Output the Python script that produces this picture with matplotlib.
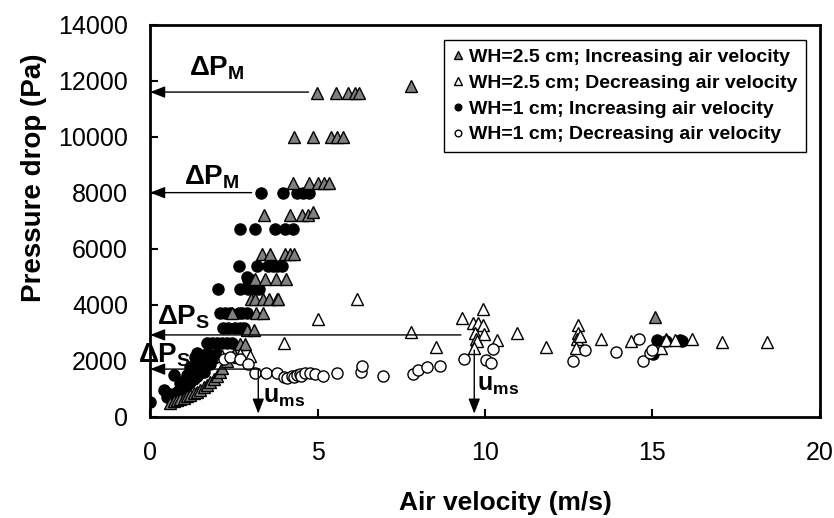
import matplotlib
matplotlib.use("Agg")
import matplotlib.pyplot as plt

plt.rcParams["font.family"] = ["Liberation Sans", "DejaVu Sans"]
plt.rcParams["mathtext.fontset"] = "custom"
plt.rcParams["mathtext.rm"] = "Liberation Sans"
plt.rcParams["mathtext.bf"] = "Liberation Sans:bold"

# WH=2.5 cm, increasing air velocity (grey triangles)
inc25_v = [4.97, 5.55, 5.92, 6.12, 6.25, 7.8,
           4.31, 4.85, 5.40, 5.57, 5.75,
           4.26, 4.73, 5.02, 5.20, 5.34,
           3.41, 4.18, 4.55, 4.71, 4.87,
           3.35, 3.58, 4.03, 4.18, 4.30,
           3.13, 3.43, 3.76, 4.05,
           3.01, 3.13, 3.36, 3.56, 3.78, 3.81,
           2.44, 3.16, 3.38,
           2.89, 3.10,
           2.69, 2.82,
           0.6, 0.7, 0.8, 0.9, 1.0, 1.1, 1.2, 1.3, 1.4, 1.5,
           1.6, 1.7, 1.8, 1.9, 2.0, 2.1, 2.14, 2.3, 2.5,
           15.07, 15.4]
inc25_p = [11550, 11550, 11550, 11550, 11550, 11800,
           10000, 10000, 10000, 10000, 10000,
           8360, 8360, 8360, 8360, 8360,
           7200, 7200, 7200, 7200, 7330,
           5820, 5820, 5820, 5820, 5820,
           4930, 4930, 4930, 4930,
           4200, 4200, 4200, 4200, 4200, 4200,
           3700, 3700, 3700,
           3100, 3100,
           2600, 2600,
           500, 560, 600, 650, 690, 740, 790, 850, 910, 980,
           1060, 1140, 1250, 1370, 1480, 1600, 1740, 2000, 2250,
           3580, 2780]

# WH=2.5 cm, decreasing air velocity (open triangles)
dec25_v = [2.14, 2.64, 2.69, 2.99, 4.0, 5.0, 6.19, 7.78, 8.53, 9.30,
           9.93, 9.65, 9.80, 9.93, 9.70, 9.98, 9.72, 9.75, 9.67, 10.35,
           10.95, 11.81, 12.77, 12.78, 12.74, 12.72, 12.85, 13.46, 14.35,
           15.27, 15.42, 15.67, 16.17, 17.08, 18.43]
dec25_p = [2180, 2140, 2250, 2180, 2650, 3490, 4210, 3050, 2490, 3520,
           3850, 3370, 3370, 3290, 3010, 2980, 2770, 2700, 2450, 2750,
           2990, 2500, 3290, 3000, 2770, 2450, 2900, 2800, 2720,
           2470, 2750, 2760, 2790, 2690, 2690]

# WH=1 cm, increasing air velocity (black circles)
inc1_v = [3.31, 3.96, 4.38, 4.58, 4.73,
          2.67, 3.13, 3.73, 4.03, 4.28,
          2.64, 3.20, 3.53, 3.68, 3.78, 3.93,
          2.89, 2.92, 3.05,
          2.02, 2.67, 2.92, 3.13, 3.26,
          2.09, 2.24, 2.39, 2.64, 2.74, 2.89,
          2.19, 2.34, 2.54, 2.67, 2.79,
          1.69, 1.84, 1.99, 2.14, 2.29, 2.44,
          0.0, 0.4, 0.7, 0.5, 0.6, 0.8, 0.9, 1.0, 1.1, 1.2, 1.3, 1.4,
          1.0, 1.2, 1.3, 1.4, 1.5, 1.39, 1.6, 1.7, 1.8, 1.9, 2.0,
          1.5, 1.6, 1.7, 1.8, 1.2, 1.35, 1.1, 0.9, 1.6,
          15.02, 15.14, 15.42, 15.82, 15.87]
inc1_p = [8000, 8000, 8000, 8000, 8000,
          6700, 6700, 6700, 6700, 6700,
          5400, 5400, 5400, 5400, 5400, 5400,
          5010, 4900, 4900,
          4560, 4560, 4560, 4560, 4560,
          3730, 3730, 3730, 3730, 3730, 3730,
          3170, 3170, 3170, 3170, 3170,
          2630, 2630, 2630, 2630, 2630, 2630,
          520, 960, 1500, 700, 820, 900, 1000, 1080, 1150, 1250, 1350, 1450,
          1300, 1550, 1750, 1900, 2050, 2270, 2200, 2250, 2200, 2100, 2250,
          1700, 1850, 1950, 1900, 1800, 2150, 1500, 1200, 1600,
          2250, 2750, 2720, 2750, 2730]

# WH=1 cm, decreasing air velocity (open circles)
dec1_v = [2.22, 2.39, 2.69, 2.92, 3.13, 3.46, 3.78, 4.01, 4.1, 4.23, 4.3,
          4.38, 4.48, 4.5, 4.63, 4.78, 4.93, 5.17, 5.57, 6.29, 6.32, 6.94,
          7.86, 8.01, 8.26, 8.66, 9.37, 10.03, 10.18, 10.23, 12.64, 12.99,
          13.91, 14.61, 14.71, 14.93, 15.0]
dec1_p = [2060, 2150, 2060, 1890, 1560, 1560, 1560, 1440, 1400, 1480, 1420,
          1500, 1540, 1450, 1560, 1580, 1550, 1480, 1580, 1620, 1820, 1460,
          1520, 1680, 1800, 1820, 2060, 2040, 1940, 2440, 2000, 2390,
          2310, 2770, 2010, 2300, 2400]

labels = ["WH=2.5 cm; Increasing air velocity",
          "WH=2.5 cm; Decreasing air velocity",
          "WH=1 cm; Increasing air velocity",
          "WH=1 cm; Decreasing air velocity"]

# horizontal arrows: (y level, x start of line)
dp_levels = [11600, 8010, 2930, 1710]
dp_starts = [4.73, 3.03, 9.28, 3.28]
ums_v = [3.23, 9.68]
ums_top = [1710, 2390]

fig = plt.figure(figsize=(8.34, 5.18), dpi=100)
ax = fig.add_axes([0.18, 0.195, 0.803, 0.757])

ms_t, ms_c = 9, 8
h1 = ax.plot(inc1_v, inc1_p, "o", ms=ms_c, mfc="black", mec="black",
             mew=1, zorder=3)[0]
h0 = ax.plot(inc25_v, inc25_p, "^", ms=ms_t, mfc="#808080", mec="black",
             mew=1, zorder=4)[0]
h2 = ax.plot(dec25_v, dec25_p, "^", ms=ms_t, mfc="white", mec="black",
             mew=1, zorder=5)[0]
h3 = ax.plot(dec1_v, dec1_p, "o", ms=ms_c, mfc="white", mec="black",
             mew=1, zorder=6)[0]

arrow = dict(arrowstyle="-|>,head_length=0.9,head_width=0.35",
             color="black", lw=1, shrinkA=0, shrinkB=0)
for y, x0 in zip(dp_levels, dp_starts):
    ax.annotate("", xy=(0, y), xytext=(x0, y), arrowprops=arrow, zorder=7)
for x, y in zip(ums_v, ums_top):
    ax.annotate("", xy=(x, 120), xytext=(x, y), arrowprops=arrow, zorder=7)

txt = dict(fontsize=20, ha="center", va="center", zorder=8)
ax.text(2.0, 12450, r"$\mathbf{\Delta P_M}$", **txt)
ax.text(1.83, 8570, r"$\mathbf{\Delta P_M}$", **txt)
ax.text(1.0, 3570, r"$\mathbf{\Delta P_S}$", **txt)
ax.text(0.42, 2210, r"$\mathbf{\Delta P_S}$", clip_on=False, **txt)
txt["fontsize"] = 18
ax.text(4.0, 720, r"$\mathbf{u_{ms}}$", **txt)
ax.text(10.4, 1140, r"$\mathbf{u_{ms}}$", **txt)

ax.set_xlim(0, 20)
ax.set_ylim(0, 14000)
ax.set_xticks([0, 5, 10, 15, 20])
ax.set_yticks(range(0, 14001, 2000))
ax.tick_params(direction="in", length=6, width=1.5, labelsize=18,
               top=False, right=False)
ax.tick_params(axis="x", pad=17)
ax.tick_params(axis="y", pad=16)
for s in ax.spines.values():
    s.set_linewidth(2)

xl = ax.set_xlabel("Air velocity (m/s)", fontsize=19, fontweight="bold")
xl.set_va("center")
ax.xaxis.set_label_coords(0.53, -0.219)
yl = ax.set_ylabel("Pressure drop (Pa)", fontsize=20, fontweight="bold")
yl.set_va("center")
ax.yaxis.set_label_coords(-0.173, 0.61)

leg = ax.legend([h0, h2, h1, h3], labels, loc="upper right",
                bbox_to_anchor=(0.979, 0.962), markerscale=0.6,
                prop=dict(weight="bold", size=14), handlelength=0.5,
                handletextpad=0.3, borderpad=0.45, labelspacing=0.42,
                borderaxespad=0, fancybox=False, framealpha=1,
                edgecolor="black")
leg.get_frame().set_linewidth(1)

fig.savefig("out.png", dpi=100)
